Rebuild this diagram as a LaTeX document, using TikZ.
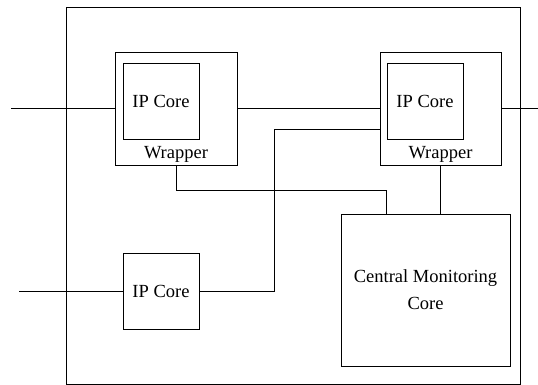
\documentclass[tikz,border=0pt]{standalone}
\usepackage{fontspec}
\setmainfont{Liberation Serif}
\begin{document}
\begin{tikzpicture}[x=1pt,y=-1pt,line width=0.8pt,
        box/.style={draw,rectangle,inner sep=0pt},
        core/.style={box,minimum width=76pt,minimum height=76pt},
        every node/.append style={font=\fontsize{18.5}{27}\selectfont}]
        \useasboundingbox (0,0) rectangle (538,385);

        % Chip
        \node[box,minimum width=454pt,minimum height=377pt] (chip) at (293,195.5) {};

        % Wrapper links
        \node[box,minimum width=122pt,minimum height=113pt] (lw) at (176,108.5) {};
        \node[core] (lc) at (161,101) {IP Core};
        \node (lwl) at (176,154) {Wrapper};

        % Wrapper rechts
        \node[box,minimum width=121pt,minimum height=113pt] (rw) at (440.5,108.5) {};
        \node[core] (rc) at (425,101) {IP Core};
        \node (rwl) at (440.5,154) {Wrapper};

        % IP Core unten
        \node[core] (bc) at (161,291) {IP Core};

        % Monitor
        \node[box,minimum width=169pt,minimum height=152pt,align=center] (cmc) at (425.5,290)
                {Central Monitoring\\Core};

        % Anschluesse
        \coordinate (in1) at (11,108.5);
        \coordinate (in2) at (19,291);
        \coordinate (out1) at (538,108.5);
        \draw (in1) -- (lw.west);
        \draw (in2) -- (bc.west);
        \draw (rw.east) -- (out1);

        % Verbindungen
        \draw (lw.east) -- (rw.west);
        \draw (lw.south) -- ++(0,25) -| (cmc.north -| rc.west);
        \draw (rw.south) -- (rw.south |- cmc.north);
        \draw (bc.east) -- ++(75,0) |- ([yshift=-20.5pt]rw.west);
    \end{tikzpicture}
\end{document}
